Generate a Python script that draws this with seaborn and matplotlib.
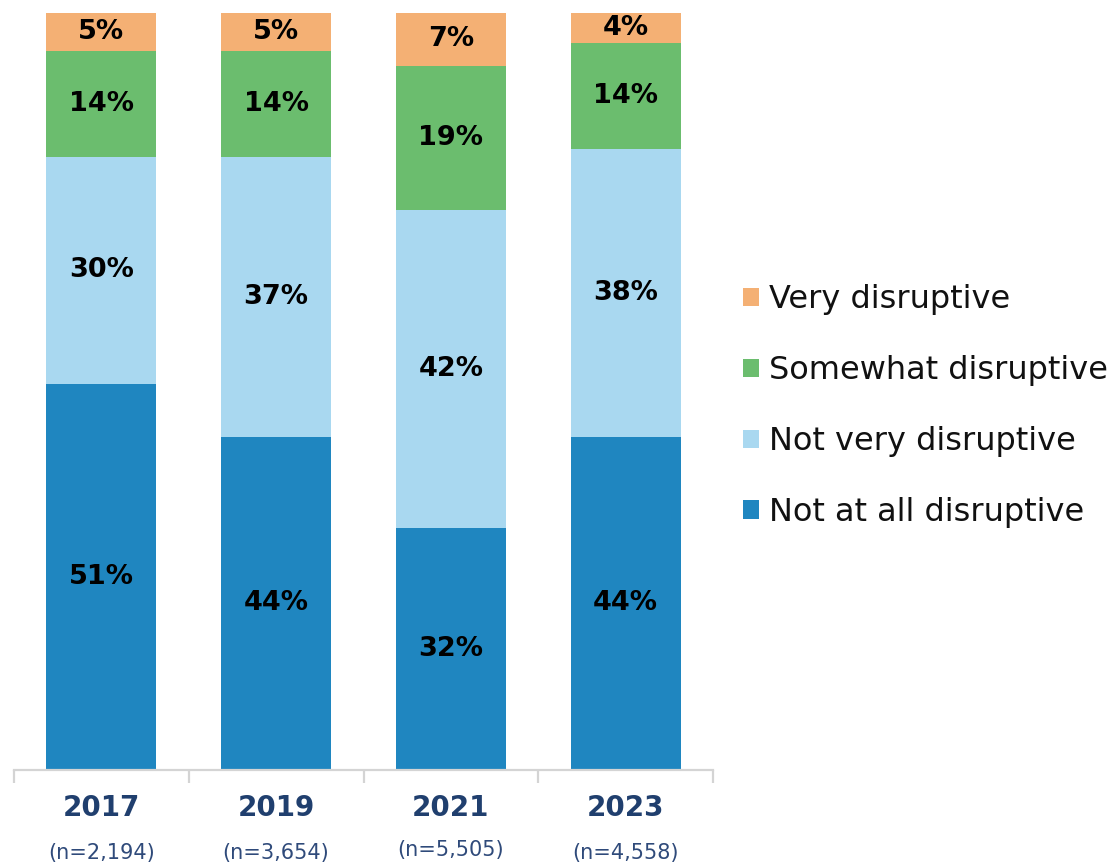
import matplotlib
matplotlib.use("Agg")
import matplotlib.pyplot as plt
import matplotlib.transforms as mtransforms
from matplotlib.patches import Patch
import numpy as np
import pandas as pd
import seaborn as sns

years = ["2017", "2019", "2021", "2023"]
sample_sizes = ["(n=2,194)", "(n=3,654)", "(n=5,505)", "(n=4,558)"]
categories = ["Not at all disruptive", "Not very disruptive",
              "Somewhat disruptive", "Very disruptive"]
not_at_all = [51, 44, 32, 44]
not_very = [30, 37, 42, 38]
somewhat = [14, 14, 19, 14]
very = [5, 5, 7, 4]

colors = ["#1F86C0", "#A9D8F0", "#6BBD6E", "#F4B074"]

sns.set_theme(style="white")
plt.rcParams["font.family"] = ["DejaVu Sans"]

layers = [not_at_all, not_very, somewhat, very]
df = pd.DataFrame({"year": years})
cum = np.zeros(len(years))
bottoms = []
for name, vals in zip(categories, layers):
    bottoms.append(cum.copy())
    cum = cum + np.array(vals)
    df[name] = cum

fig = plt.figure(figsize=(11.15, 8.65), dpi=100)
ax = fig.add_axes([14 / 1115, 95 / 865, 699 / 1115, 757 / 865])

# Stack by drawing cumulative totals from the top layer downward
for name, color in reversed(list(zip(categories, colors))):
    sns.barplot(data=df, x="year", y=name, color=color, width=0.63,
                saturation=1, ax=ax, edgecolor="none", linewidth=0)

for vals, bots in zip(layers, bottoms):
    for i, (v, b) in enumerate(zip(vals, bots)):
        ax.text(i, b + v / 2, f"{v}%", ha="center", va="center",
                fontsize=19.5, fontweight="bold", color="#000000")

ax.set_xlim(-0.5, 3.5)
ax.set_ylim(0, 100)
ax.set_xlabel("")
ax.set_ylabel("")
ax.set_yticks([])
for side in ["left", "right", "top"]:
    ax.spines[side].set_visible(False)
ax.spines["bottom"].set_color("#D4D4D4")
ax.spines["bottom"].set_linewidth(1.6)
ax.set_xticks(range(len(years)))
ax.set_xticklabels([])
ax.tick_params(axis="x", which="major", length=0)
ax.set_xticks(np.arange(-0.5, len(years), 1.0), minor=True)
ax.tick_params(axis="x", which="minor", bottom=True, length=9, width=1.6,
               color="#D4D4D4", direction="out")

trans = mtransforms.blended_transform_factory(ax.transData, fig.transFigure)
for i, (yr, n) in enumerate(zip(years, sample_sizes)):
    ax.text(i, 1 - 808 / 865, yr, transform=trans, ha="center", va="center",
            fontsize=20, fontweight="bold", color="#203F6E")
    ny = 850 if yr == "2021" else 853
    ax.text(i, 1 - ny / 865, n, transform=trans, ha="center", va="center",
            fontsize=15, color="#2F4A7A")

handles = [Patch(facecolor=c, edgecolor="none") for c in colors]
leg = fig.legend(handles[::-1], categories[::-1], loc="center left",
                 bbox_to_anchor=(730 / 1115, 1 - 406 / 865), frameon=False,
                 fontsize=23, handlelength=0.5, handleheight=0.5,
                 handletextpad=0.32, labelspacing=1.25, borderaxespad=0)
for t in leg.get_texts():
    t.set_color("#111111")

fig.savefig("out.png", dpi=100)
